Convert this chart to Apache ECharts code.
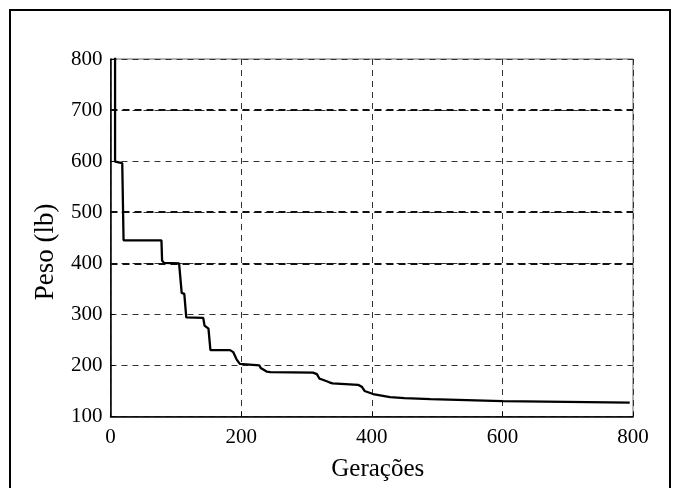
<!DOCTYPE html>
<html>
<head>
<meta charset="utf-8">
<script src="https://cdn.jsdelivr.net/npm/echarts@6/dist/echarts.min.js"></script>
<style>
html,body{margin:0;padding:0;background:#fff;}
#chart{width:677px;height:488px;}
</style>
</head>
<body>
<div id="chart"></div>
<script>
// Data
const generations = [0, 7, 7, 18, 19, 20, 78, 79, 82, 105, 108, 109, 113, 115, 116, 142, 144, 150, 152, 153, 183, 188, 193, 198, 201, 228, 230, 233, 239, 245, 310, 316, 320, 325, 335, 340, 379, 385, 389, 392, 402, 415, 428, 450, 490, 600, 795];
const weights     = [1500, 1500, 599, 596, 520, 445, 445, 405, 401, 400, 398, 342, 340, 338, 294, 293, 278, 272, 270, 230, 230, 226, 212, 203, 201, 200, 195, 192, 188, 187, 186, 183, 174, 172, 167, 165, 162, 158, 150, 147, 144, 141, 138, 136, 134, 130, 127];
const xTicks = [0, 200, 400, 600, 800];
const yTicks = [100, 200, 300, 400, 500, 600, 700, 800];
const boldGridY = [400, 500, 700];
const xName = 'Gerações';
const yName = 'Peso (lb)';

const seriesData = generations.map((g, i) => [g, weights[i]]);
const fontFam = '"Liberation Serif", "DejaVu Serif", serif';

const chart = echarts.init(document.getElementById('chart'));
chart.setOption({
  animation: false,
  backgroundColor: '#fff',
  graphic: [{
    type: 'rect',
    shape: { x: 10, y: 10, width: 660, height: 495 },
    style: { fill: 'none', stroke: '#000', lineWidth: 2 },
    silent: true
  }, {
    type: 'text',
    x: 46, y: 252,
    rotation: Math.PI / 2,
    style: {
      text: yName, fontFamily: fontFam, fontSize: 27, fill: '#000',
      align: 'center', verticalAlign: 'middle'
    },
    silent: true
  }],
  grid: {
    left: 110.5, right: 44, top: 59, bottom: 71.5,
    show: true, borderColor: '#666', borderWidth: 1, backgroundColor: 'transparent'
  },
  xAxis: {
    type: 'value',
    min: xTicks[0], max: xTicks[xTicks.length - 1], interval: 200,
    name: xName, nameLocation: 'middle', nameGap: 40, nameMoveOverlap: false,
    nameTextStyle: { fontFamily: fontFam, fontSize: 25, color: '#000', padding: [0, 0, 0, 12] },
    axisLine: { show: true, lineStyle: { color: '#000', width: 1.5 } },
    axisTick: { show: true, inside: true, length: 4, lineStyle: { color: '#000' } },
    axisLabel: { fontFamily: fontFam, fontSize: 21, color: '#000', margin: 10 },
    splitLine: { show: true, lineStyle: { color: '#333', type: [6, 5], width: 1 } }
  },
  yAxis: {
    type: 'value',
    min: yTicks[0], max: yTicks[yTicks.length - 1], interval: 100,
    axisLine: { show: true, lineStyle: { color: '#000', width: 1.5 } },
    axisTick: { show: true, inside: true, length: 4, lineStyle: { color: '#000' } },
    axisLabel: { fontFamily: fontFam, fontSize: 21, color: '#000', margin: 8 },
    splitLine: { show: true, lineStyle: { color: '#333', type: [6, 5], width: 1 } }
  },
  series: [{
    type: 'line',
    data: seriesData,
    showSymbol: false,
    clip: true,
    lineStyle: { color: '#000', width: 2.3 },
    z: 5,
    markLine: {
      silent: true,
      symbol: 'none',
      label: { show: false },
      lineStyle: { color: '#111', type: [7, 5], width: 2 },
      data: boldGridY.map(v => ({ yAxis: v }))
    }
  }]
});
</script>
</body>
</html>
